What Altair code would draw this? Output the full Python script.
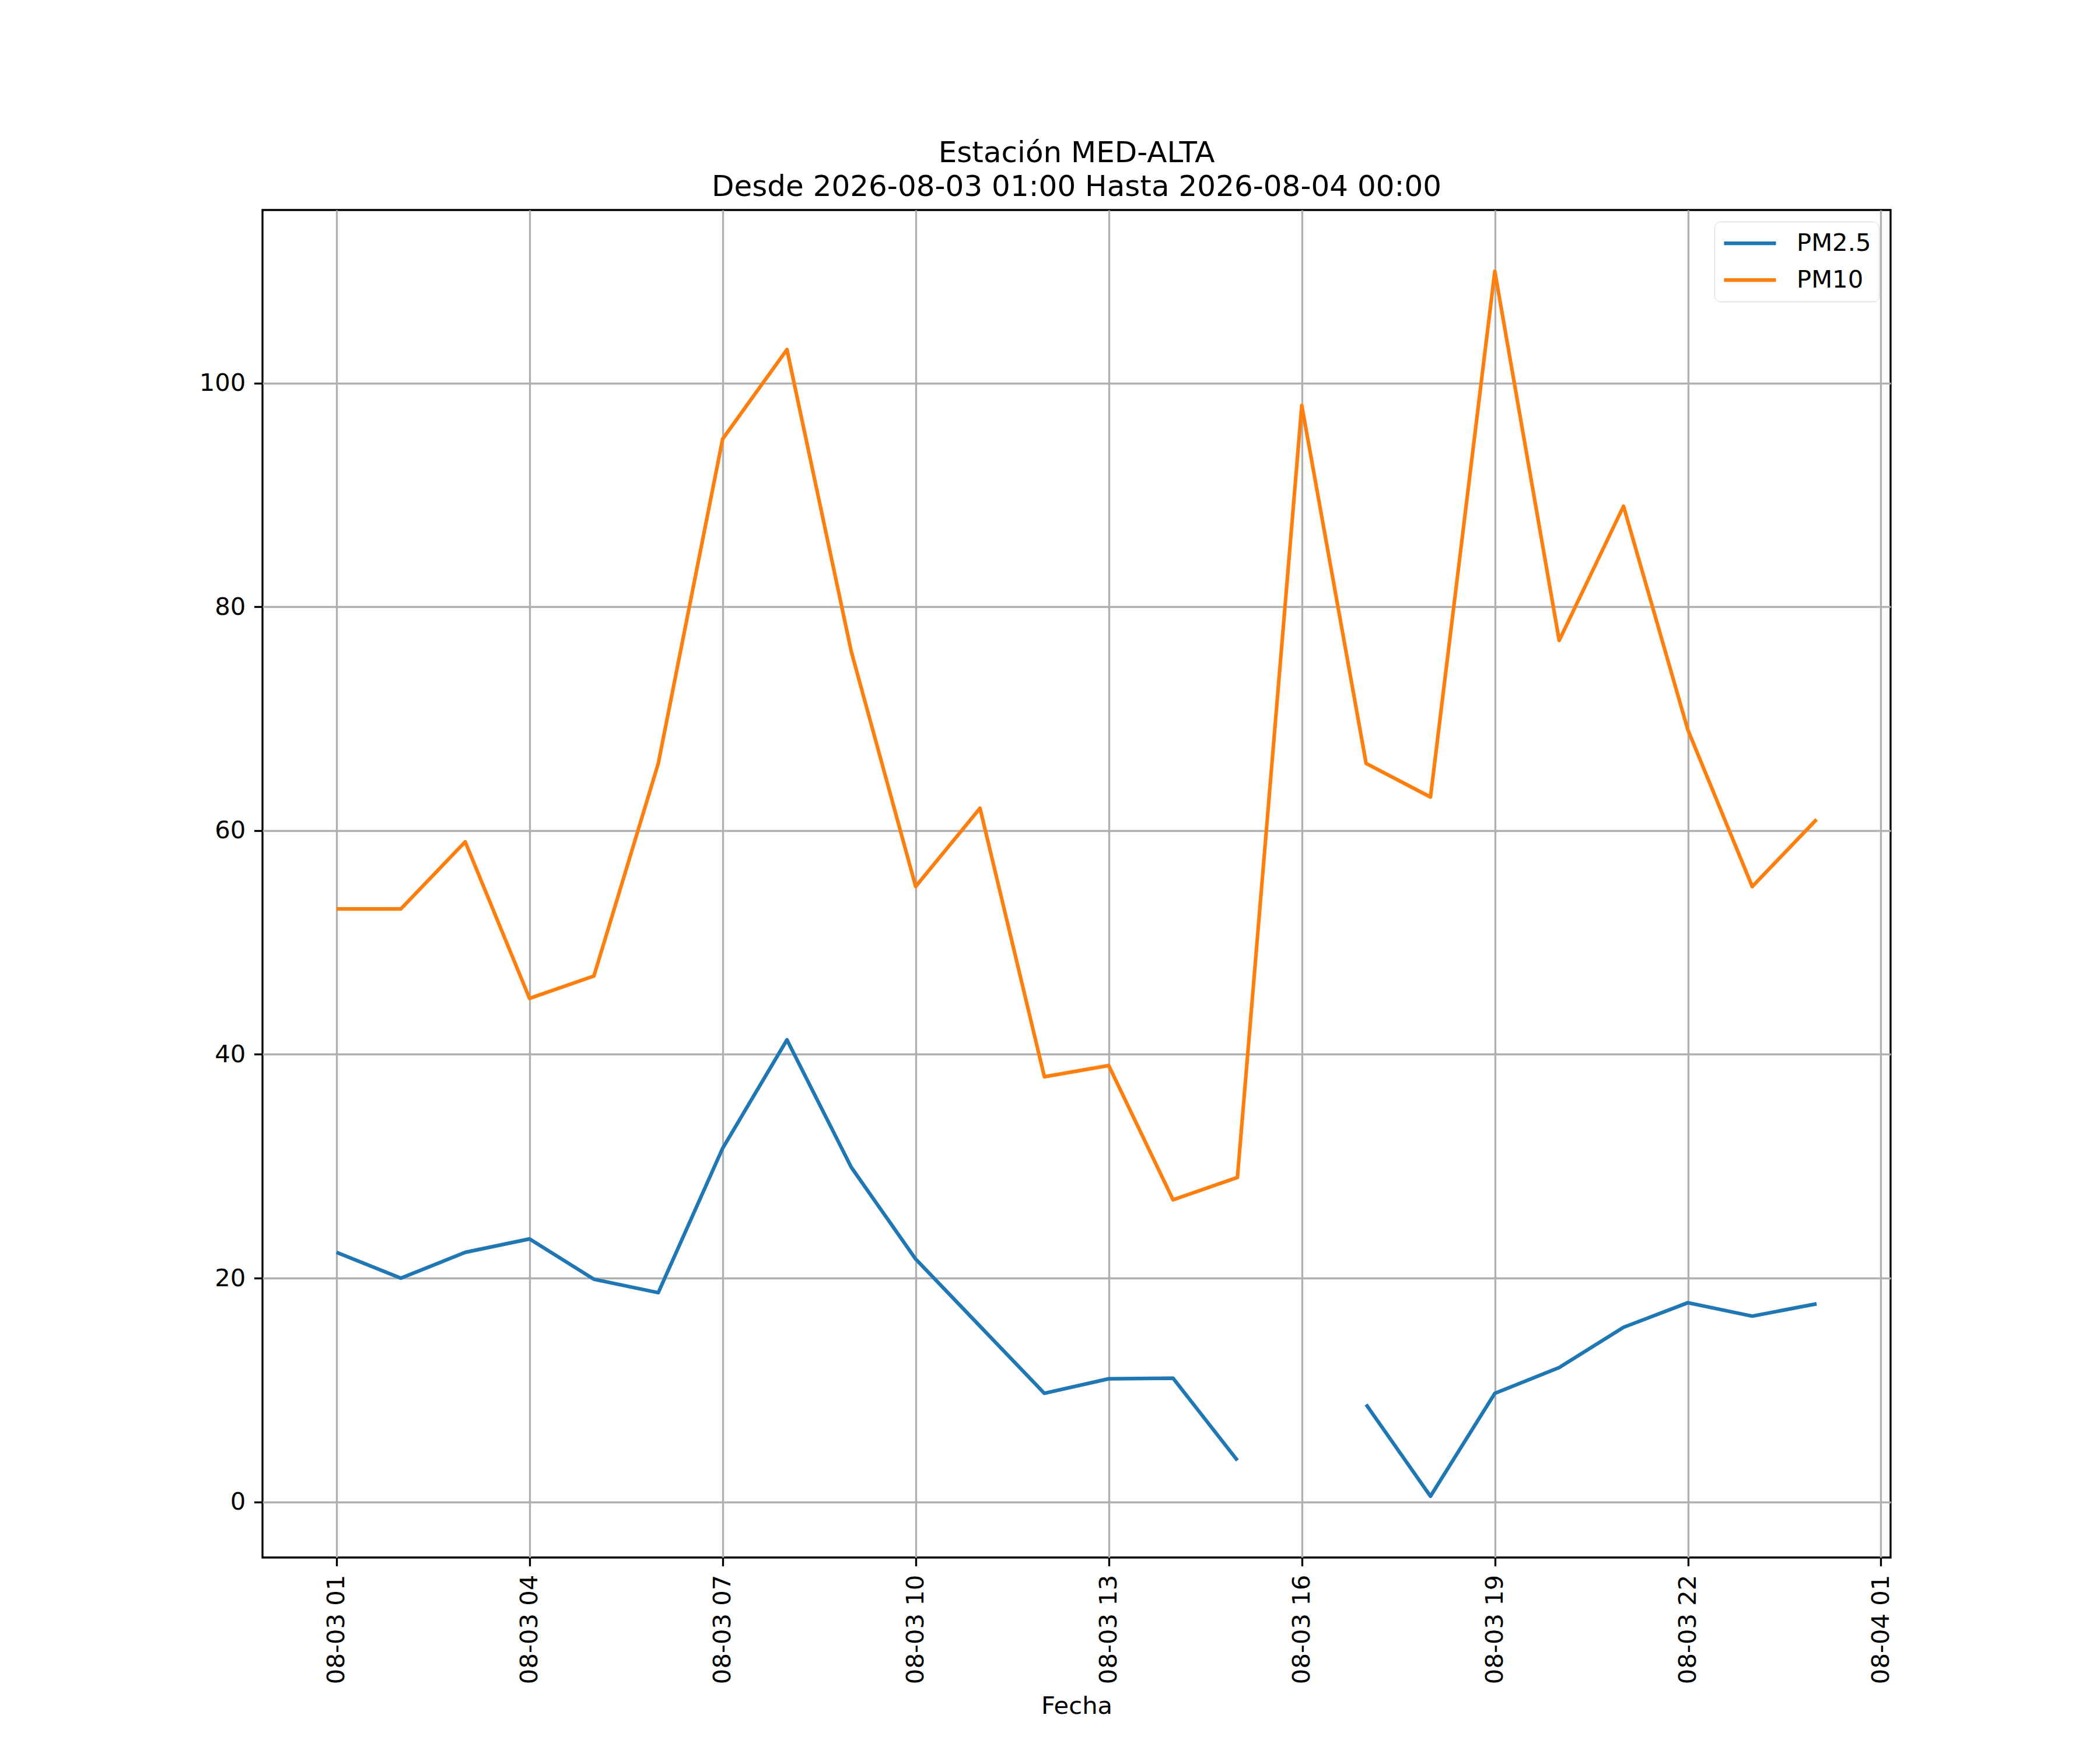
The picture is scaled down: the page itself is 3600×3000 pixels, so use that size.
import altair as alt

horas = [
    "2026-08-03T01:00:00", "2026-08-03T02:00:00", "2026-08-03T03:00:00", "2026-08-03T04:00:00",
    "2026-08-03T05:00:00", "2026-08-03T06:00:00", "2026-08-03T07:00:00", "2026-08-03T08:00:00",
    "2026-08-03T09:00:00", "2026-08-03T10:00:00", "2026-08-03T11:00:00", "2026-08-03T12:00:00",
    "2026-08-03T13:00:00", "2026-08-03T14:00:00", "2026-08-03T15:00:00", "2026-08-03T16:00:00",
    "2026-08-03T17:00:00", "2026-08-03T18:00:00", "2026-08-03T19:00:00", "2026-08-03T20:00:00",
    "2026-08-03T21:00:00", "2026-08-03T22:00:00", "2026-08-03T23:00:00", "2026-08-04T00:00:00",
]
pm25 = [22.3, 20.0, 22.3, 23.5, 19.9, 18.7, 31.6, 41.3, 29.9, 21.7, 15.7, 9.7,
        11.0, 11.05, 3.7, None, 8.7, 0.5, 9.7, 12.0, 15.6, 17.8, 16.6, 17.7]
pm10 = [53, 53, 59, 45, 47, 66, 95, 103, 76, 55, 62, 38,
        39, 27, 29, 98, 66, 63, 110, 77, 89, 69, 55, 61]
series = ["PM2.5", "PM10"]
colores = ["#1f77b4", "#ff7f0e"]
y_ticks = [0, 20, 40, 60, 80, 100]

rows = []
for h, a, b in zip(horas, pm25, pm10):
    rows.append({"fecha": h, "serie": "PM2.5", "valor": a})
    rows.append({"fecha": h, "serie": "PM10", "valor": b})

x_ticks = [alt.DateTime(year=2026, month=8, date=3, hours=h) for h in [1, 4, 7, 10, 13, 16, 19, 22]]
x_ticks.append(alt.DateTime(year=2026, month=8, date=4, hours=1))

FONT = "DejaVu Sans"
FS = 41.7
LW = 3.33

chart = alt.Chart(alt.Data(values=rows)).mark_line(strokeWidth=6.25, strokeJoin="round").encode(
    x=alt.X(
        "fecha:T",
        title="Fecha",
        scale=alt.Scale(domain=[
            alt.DateTime(year=2026, month=8, date=2, hours=23, minutes=51),
            alt.DateTime(year=2026, month=8, date=4, hours=1, minutes=9),
        ]),
        axis=alt.Axis(
            values=x_ticks, format="%m-%d %H", labelAngle=270,
            grid=True, gridColor="#b0b0b0", gridWidth=LW,
            domain=False, ticks=True, tickColor="black", tickWidth=LW, tickSize=14.6,
            labelPadding=14.6, labelFont=FONT, labelFontSize=FS, labelColor="black",
            labelLimit=600,
            titleFont=FONT, titleFontSize=FS, titleFontWeight="normal", titleColor="black",
            titlePadding=34, labelOverlap=False, labelFlush=False,
        ),
    ),
    y=alt.Y(
        "valor:Q",
        title=None,
        scale=alt.Scale(domain=[-4.975, 115.475], nice=False, zero=False),
        axis=alt.Axis(
            values=y_ticks, format="d",
            grid=True, gridColor="#b0b0b0", gridWidth=LW,
            domain=False, ticks=True, tickColor="black", tickWidth=LW, tickSize=14.6,
            labelPadding=14.6, labelFont=FONT, labelFontSize=FS, labelColor="black",
        ),
    ),
    color=alt.Color(
        "serie:N",
        scale=alt.Scale(domain=series, range=colores),
        legend=alt.Legend(
            title=None, orient="top-right", offset=20,
            symbolType="stroke", symbolSize=7921, symbolStrokeWidth=6.25,
            labelFont=FONT, labelFontSize=FS, labelColor="black", labelOffset=32,
            padding=13, rowPadding=15, clipHeight=48,
            strokeColor="#d6d6d6", fillColor="white", cornerRadius=10,
        ),
    ),
).properties(
    width=2791,
    height=2310,
    title=alt.TitleParams(
        text=["Estación MED-ALTA", "Desde 2026-08-03 01:00 Hasta 2026-08-04 00:00"],
        font=FONT, fontSize=50, fontWeight="normal", color="black",
        anchor="middle", offset=14, lineHeight=58,
    ),
    padding={"left": 442, "top": 352, "right": 340, "bottom": 310},
    autosize=alt.AutoSizeParams(type="none"),
).configure(
    background="white",
    view=alt.ViewConfig(stroke="black", strokeWidth=LW),
)

chart.save("out.html", embed_options={"renderer": "svg", "actions": False})
